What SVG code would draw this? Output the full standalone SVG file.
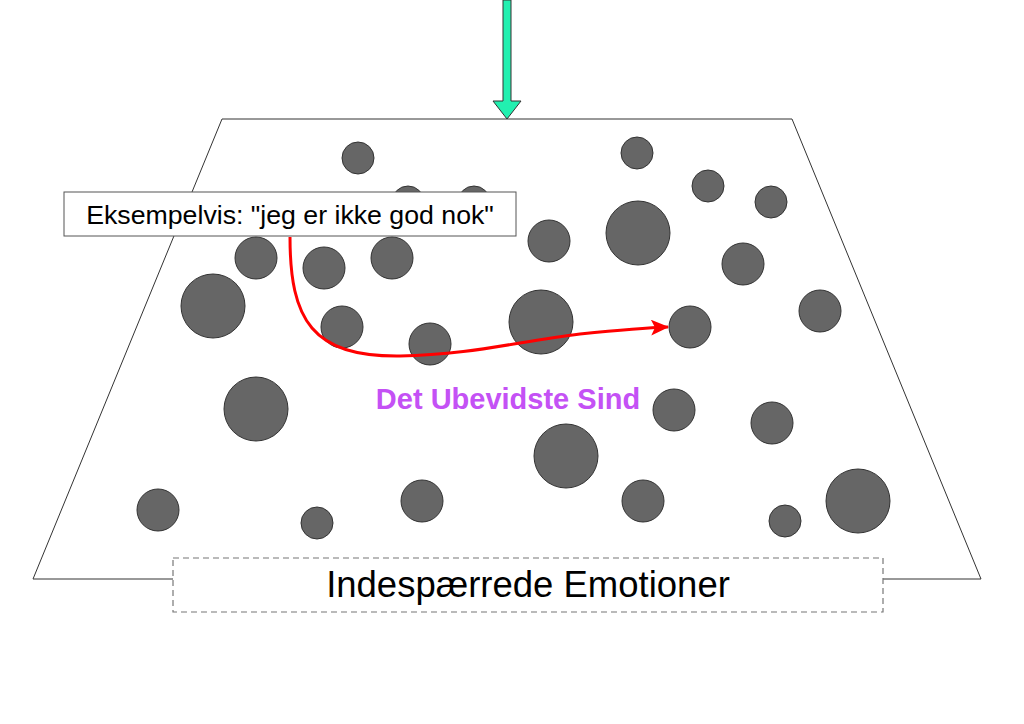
<svg xmlns="http://www.w3.org/2000/svg" width="1024" height="724" viewBox="0 0 1024 724">
<defs>
<style>
.b{fill:#666666;stroke:#333333;stroke-width:1}
.t{font-family:"Liberation Sans",Arial,sans-serif;fill:#000}
</style>
<marker id="ah" markerWidth="18" markerHeight="16" refX="17" refY="8" orient="auto" markerUnits="userSpaceOnUse">
<path d="M0,0 L18,8 L0,16 L4,8 Z" fill="#ff0000"/>
</marker>
</defs>
<rect width="1024" height="724" fill="#ffffff"/>
<g id="mind">
<polygon points="222,119 792,119 981,579 33,579" fill="#ffffff" stroke="#333333" stroke-width="1"/>
</g>
<g id="emotions">
<circle class="b" cx="358" cy="158" r="16"/>
<circle class="b" cx="637" cy="153" r="16"/>
<circle class="b" cx="708" cy="186" r="16"/>
<circle class="b" cx="771" cy="202" r="16"/>
<circle class="b" cx="408" cy="202" r="16"/>
<circle class="b" cx="474" cy="202" r="16"/>
<circle class="b" cx="549" cy="241" r="21"/>
<circle class="b" cx="638" cy="233" r="32"/>
<circle class="b" cx="256" cy="258" r="21"/>
<circle class="b" cx="324" cy="268" r="21"/>
<circle class="b" cx="392" cy="258" r="21"/>
<circle class="b" cx="743" cy="264" r="21"/>
<circle class="b" cx="213" cy="306" r="32"/>
<circle class="b" cx="820" cy="311" r="21"/>
<circle class="b" cx="342" cy="327" r="21"/>
<circle class="b" cx="430" cy="344" r="21"/>
<circle class="b" cx="541" cy="322" r="32"/>
<circle class="b" cx="690" cy="327" r="21"/>
<circle class="b" cx="256" cy="409" r="32"/>
<circle class="b" cx="674" cy="410" r="21"/>
<circle class="b" cx="772" cy="423" r="21"/>
<circle class="b" cx="566" cy="456" r="32"/>
<circle class="b" cx="158" cy="510" r="21"/>
<circle class="b" cx="422" cy="501" r="21"/>
<circle class="b" cx="643" cy="501" r="21"/>
<circle class="b" cx="858" cy="501" r="32"/>
<circle class="b" cx="317" cy="523" r="16"/>
<circle class="b" cx="785" cy="521" r="16"/>
</g>
<g id="example">
<rect x="64" y="192" width="452" height="44" fill="#ffffff" stroke="#555555" stroke-width="1"/>
<text class="t" x="290" y="224" font-size="26.7" text-anchor="middle">Eksempelvis: "jeg er ikke god nok"</text>
</g>
<g id="connectors">
<path d="M290,237 C290,320 312,357 400,356 C470,355 520,341 580,334 C620,330 640,328 668,327" fill="none" stroke="#ff0000" stroke-width="3" marker-end="url(#ah)"/>
<polygon points="503,0 511,0 511,101 521,101 507,119 493,101 503,101" fill="#22f0b0" stroke="#333333" stroke-width="1"/>
</g>
<g id="label">
<text x="508" y="409" font-family="'Liberation Sans',Arial,sans-serif" font-weight="bold" font-size="29" fill="#c451f5" text-anchor="middle">Det Ubevidste Sind</text>
</g>
<g id="pent-up">
<rect x="173" y="558" width="710" height="54" fill="#ffffff" stroke="#777777" stroke-width="1.2" stroke-dasharray="6,4"/>
<text class="t" x="528" y="597" font-size="36.5" text-anchor="middle">Indespærrede Emotioner</text>
</g>
</svg>
